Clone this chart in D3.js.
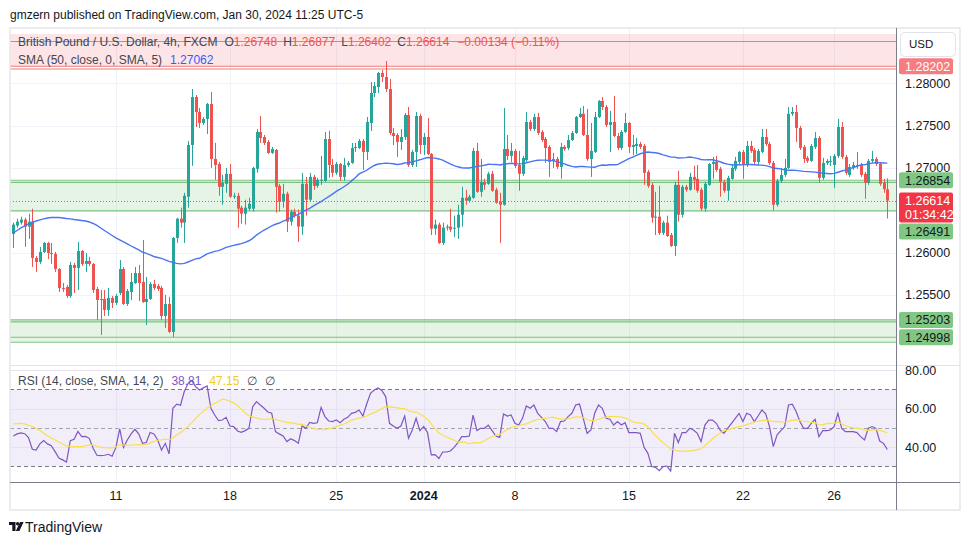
<!DOCTYPE html>
<html><head><meta charset="utf-8">
<script src="https://cdn.jsdelivr.net/npm/d3@7"></script>
<style>
html,body{margin:0;padding:0;background:#fff;}
svg{display:block;font-family:"Liberation Sans",Arial,sans-serif;}
</style></head><body>
<svg id="chart" width="970" height="545"></svg>
<script>
// ---------- DATA ----------
// 4h candles GBP/USD, [open, high, low, close]
const ohlc = [
[1.26219,1.26353,1.26054,1.26330],[1.26318,1.26400,1.26294,1.26365],[1.26353,1.26424,1.26330,1.26389],[1.26389,1.26412,1.26066,1.26306],
[1.26306,1.26459,1.26160,1.26365],[1.26365,1.26518,1.25829,1.25936],[1.25936,1.25959,1.25770,1.25888],[1.25888,1.26066,1.25865,1.26007],
[1.26007,1.26125,1.25995,1.26113],[1.26113,1.26125,1.25924,1.25995],[1.25995,1.26113,1.25865,1.25983],[1.25983,1.26007,1.25770,1.25805],
[1.25805,1.25817,1.25534,1.25581],[1.25581,1.25640,1.25534,1.25569],[1.25593,1.25617,1.25463,1.25486],[1.25486,1.25888,1.25463,1.25853],
[1.25853,1.25877,1.25522,1.25817],[1.25817,1.26125,1.25557,1.26018],[1.26018,1.26030,1.25841,1.25865],[1.25865,1.25995,1.25770,1.25900],
[1.25900,1.25948,1.25841,1.25865],[1.25865,1.25877,1.25522,1.25557],[1.25569,1.25593,1.25202,1.25439],[1.25451,1.25557,1.25025,1.25439],
[1.25451,1.25557,1.25250,1.25321],[1.25321,1.25581,1.25250,1.25463],[1.25463,1.25486,1.25344,1.25404],[1.25404,1.25510,1.25380,1.25486],
[1.25522,1.25911,1.25498,1.25805],[1.25805,1.25829,1.25380,1.25392],[1.25392,1.25569,1.25368,1.25545],[1.25534,1.25758,1.25439,1.25652],
[1.25640,1.25829,1.25628,1.25758],[1.25758,1.25853,1.25427,1.25640],[1.25652,1.26148,1.25404,1.25415],[1.25415,1.25711,1.25144,1.25451],
[1.25451,1.25652,1.25439,1.25628],[1.25628,1.25675,1.25557,1.25581],[1.25605,1.25628,1.25545,1.25569],[1.25581,1.25605,1.25202,1.25250],
[1.25250,1.25498,1.25109,1.25392],[1.25392,1.25475,1.25050,1.25062],[1.25062,1.26184,1.25002,1.26172],[1.26172,1.26412,1.26113,1.26400],
[1.26400,1.26530,1.26294,1.26353],[1.26353,1.26706,1.26113,1.26671],[1.26660,1.27319,1.26530,1.27271],[1.27271,1.27933,1.27024,1.27838],
[1.27838,1.27862,1.27484,1.27661],[1.27661,1.27708,1.27472,1.27531],[1.27531,1.27602,1.27508,1.27579],[1.27579,1.27768,1.27401,1.27756],
[1.27756,1.27898,1.27000,1.27106],[1.27106,1.27295,1.26859,1.27035],[1.27047,1.27071,1.26671,1.26777],[1.26777,1.26918,1.26565,1.26824],
[1.26812,1.27000,1.26706,1.26930],[1.26930,1.27047,1.26647,1.26660],[1.26660,1.26706,1.26635,1.26671],[1.26671,1.26706,1.26294,1.26518],
[1.26530,1.26553,1.26341,1.26459],[1.26459,1.26624,1.26330,1.26530],[1.26518,1.26647,1.26495,1.26577],[1.26518,1.27012,1.26483,1.27000],
[1.26989,1.27460,1.26942,1.27425],[1.27425,1.27614,1.27295,1.27354],[1.27366,1.27389,1.27271,1.27295],[1.27307,1.27330,1.27165,1.27177],
[1.27177,1.27248,1.27165,1.27224],[1.27212,1.27224,1.26471,1.26777],[1.26788,1.26812,1.26483,1.26601],[1.26601,1.26812,1.26530,1.26694],
[1.26694,1.26718,1.26243,1.26365],[1.26365,1.26506,1.26318,1.26483],[1.26483,1.26518,1.26412,1.26436],[1.26436,1.26506,1.26125,1.26306],
[1.26306,1.26942,1.26207,1.26812],[1.26812,1.26894,1.26436,1.26624],[1.26624,1.26942,1.26601,1.26894],[1.26894,1.26918,1.26742,1.26788],
[1.26788,1.26883,1.26765,1.26859],[1.26847,1.27142,1.26800,1.26859],[1.26847,1.27425,1.26835,1.27342],[1.27342,1.27437,1.26883,1.27035],
[1.27035,1.27106,1.26894,1.26942],[1.26942,1.27071,1.26918,1.27047],[1.27047,1.27059,1.26847,1.26894],[1.26894,1.27118,1.26847,1.27035],
[1.27035,1.27083,1.27012,1.27059],[1.27059,1.27295,1.27047,1.27236],[1.27236,1.27295,1.27189,1.27248],[1.27236,1.27342,1.27224,1.27319],
[1.27319,1.27342,1.26977,1.27189],[1.27189,1.27602,1.27094,1.27543],[1.27531,1.28016,1.27437,1.27886],[1.27886,1.28016,1.27838,1.27968],
[1.27956,1.28134,1.27886,1.28122],[1.28122,1.28157,1.28016,1.28075],[1.28075,1.28264,1.27898,1.27933],[1.27933,1.28051,1.27389,1.27413],
[1.27413,1.27472,1.27271,1.27377],[1.27389,1.27413,1.27130,1.27307],[1.27307,1.27460,1.27212,1.27366],[1.27366,1.27650,1.27330,1.27626],
[1.27626,1.27720,1.27012,1.27035],[1.27035,1.27212,1.27012,1.27189],[1.27189,1.27661,1.27012,1.27614],[1.27614,1.27640,1.27165,1.27271],
[1.27271,1.27413,1.27153,1.27366],[1.27366,1.27590,1.27153,1.27165],[1.27165,1.27177,1.26207,1.26282],[1.26282,1.26389,1.26207,1.26330],
[1.26330,1.26353,1.26101,1.26113],[1.26113,1.26353,1.26089,1.26294],[1.26294,1.26330,1.26259,1.26306],[1.26306,1.26518,1.26243,1.26271],
[1.26282,1.26436,1.26184,1.26294],[1.26294,1.26565,1.26160,1.26447],[1.26447,1.26777,1.26306,1.26647],[1.26647,1.26742,1.26565,1.26612],
[1.26612,1.26683,1.26589,1.26660],[1.26647,1.27236,1.26635,1.27201],[1.27201,1.27295,1.26706,1.26718],[1.26718,1.27106,1.26660,1.26835],
[1.26835,1.26871,1.26742,1.26800],[1.26812,1.26953,1.26800,1.26930],[1.26930,1.26965,1.26718,1.26730],[1.26742,1.26765,1.26577,1.26589],
[1.26601,1.26706,1.26113,1.26565],[1.26565,1.27708,1.26553,1.27224],[1.27224,1.27389,1.27094,1.27142],[1.27142,1.27295,1.27071,1.27201],
[1.27201,1.27224,1.27000,1.27024],[1.27035,1.27201,1.26730,1.26930],[1.26930,1.27142,1.26906,1.27118],[1.27094,1.27661,1.27071,1.27543],
[1.27543,1.27567,1.27437,1.27460],[1.27460,1.27640,1.27437,1.27602],[1.27602,1.27650,1.27389,1.27413],[1.27425,1.27448,1.27307,1.27330],
[1.27342,1.27366,1.27059,1.27236],[1.27248,1.27271,1.26894,1.27071],[1.27083,1.27177,1.27000,1.27106],[1.27106,1.27130,1.26989,1.27012],
[1.27012,1.27295,1.26871,1.27248],[1.27248,1.27271,1.27201,1.27224],[1.27236,1.27389,1.27212,1.27330],[1.27330,1.27437,1.27319,1.27413],
[1.27413,1.27614,1.27401,1.27602],[1.27602,1.27708,1.27590,1.27640],[1.27640,1.27732,1.27377,1.27389],[1.27389,1.27697,1.27083,1.27106],
[1.27106,1.27531,1.26894,1.27201],[1.27189,1.27661,1.27177,1.27602],[1.27602,1.27803,1.27590,1.27791],[1.27791,1.27838,1.27685,1.27720],
[1.27720,1.27744,1.27484,1.27508],[1.27508,1.27673,1.27189,1.27543],[1.27543,1.27850,1.27366,1.27377],[1.27377,1.27413,1.27212,1.27236],
[1.27236,1.27448,1.27212,1.27425],[1.27425,1.27650,1.27413,1.27531],[1.27531,1.27543,1.27177,1.27248],[1.27248,1.27389,1.27153,1.27271],
[1.27260,1.27354,1.27165,1.27283],[1.27283,1.27307,1.27224,1.27248],[1.27260,1.27283,1.26800,1.26942],[1.26953,1.26977,1.26765,1.26788],
[1.26800,1.26824,1.26353,1.26412],[1.26412,1.26718,1.26207,1.26424],[1.26424,1.26788,1.26207,1.26231],[1.26231,1.26377,1.26207,1.26353],
[1.26353,1.26436,1.26184,1.26195],[1.26207,1.26231,1.26066,1.26077],[1.26077,1.26835,1.25959,1.26800],[1.26800,1.26965,1.26365,1.26447],
[1.26447,1.26800,1.26412,1.26777],[1.26777,1.26800,1.26718,1.26742],[1.26742,1.26942,1.26730,1.26894],[1.26894,1.27024,1.26742,1.26859],
[1.26871,1.27035,1.26706,1.26730],[1.26742,1.26765,1.26495,1.26518],[1.26518,1.26835,1.26483,1.26812],[1.26800,1.27059,1.26788,1.27047],
[1.27047,1.27130,1.26871,1.27071],[1.27071,1.27142,1.26953,1.26977],[1.26989,1.27012,1.26660,1.26835],[1.26835,1.26859,1.26706,1.26730],
[1.26730,1.26906,1.26612,1.26883],[1.26871,1.27047,1.26859,1.27000],[1.26989,1.27130,1.26965,1.27083],[1.27071,1.27201,1.27035,1.27189],
[1.27189,1.27212,1.26871,1.27035],[1.27035,1.27319,1.27012,1.27260],[1.27260,1.27319,1.27177,1.27201],[1.27212,1.27236,1.27047,1.27071],
[1.27071,1.27224,1.27035,1.27201],[1.27189,1.27460,1.27177,1.27366],[1.27366,1.27460,1.27260,1.27283],[1.27283,1.27307,1.27035,1.27059],
[1.27059,1.27083,1.26495,1.26565],[1.26565,1.26871,1.26542,1.26847],[1.26847,1.27000,1.26824,1.26918],[1.26918,1.27106,1.26894,1.27000],
[1.27000,1.27720,1.26989,1.27640],[1.27640,1.27720,1.27614,1.27661],[1.27661,1.27744,1.27307,1.27472],[1.27472,1.27496,1.27212,1.27236],
[1.27248,1.27271,1.27059,1.27106],[1.27118,1.27142,1.27059,1.27083],[1.27083,1.27283,1.27071,1.27260],[1.27248,1.27425,1.27224,1.27354],
[1.27354,1.27377,1.26824,1.26883],[1.26883,1.27118,1.26859,1.27059],[1.27059,1.27106,1.27035,1.27083],[1.27071,1.27142,1.27024,1.27083],
[1.27035,1.27165,1.26765,1.27142],[1.27142,1.27579,1.27118,1.27484],[1.27484,1.27543,1.27106,1.27130],[1.27130,1.27153,1.26918,1.26942],
[1.26918,1.27047,1.26894,1.27012],[1.27000,1.27071,1.26977,1.27035],[1.27024,1.27189,1.26989,1.27035],[1.27035,1.27059,1.26894,1.26918],
[1.26930,1.26953,1.26635,1.26824],[1.26824,1.27106,1.26800,1.27083],[1.27083,1.27201,1.27059,1.27106],[1.27106,1.27130,1.27024,1.27047],
[1.27047,1.27071,1.26788,1.26812],[1.26824,1.26871,1.26706,1.26748],[1.26748,1.26877,1.26402,1.26614]
];
// SMA(50) values for the bars before 50 closes exist
const smaHead = [1.26231,1.26260,1.26290,1.26314,1.26337,1.26355,1.26373,1.26385,1.26397,1.26408,
1.26414,1.26414,1.26414,1.26408,1.26402,1.26397,1.26390,1.26385,1.26379,1.26373,
1.26361,1.26343,1.26320,1.26290,1.26260,1.26231,1.26201,1.26172,1.26148,1.26125,
1.26101,1.26077,1.26054,1.26030,1.26006,1.25989,1.25971,1.25953,1.25941,1.25930,
1.25913,1.25895,1.25883,1.25872,1.25866,1.25872,1.25888,1.25907,1.25925];
// RSI(14) per bar
const rsiValues = [
45.8,46.9,47.4,47.0,45.0,38.9,38.5,41.7,43.4,41.7,
40.8,37.7,34.4,33.4,32.3,43.4,44.1,48.2,45.5,45.6,
44.6,39.4,35.8,35.6,35.8,36.3,35.3,39.9,49.5,39.9,
43.7,46.9,49.3,46.9,42.0,42.4,47.6,46.9,43.7,38.5,
42.0,36.5,60.2,62.4,61.8,68.9,73.2,74.6,71.4,69.7,
70.8,71.8,60.2,56.7,53.8,54.1,55.5,51.0,50.7,48.4,
47.7,48.6,49.8,61.0,63.7,61.9,60.2,58.3,57.6,48.1,
46.9,45.8,42.9,44.4,43.4,42.0,51.0,49.8,52.9,52.4,
52.7,60.7,55.9,53.6,53.3,54.1,52.7,54.5,55.5,57.6,
58.1,59.3,56.2,62.4,68.0,69.7,70.8,69.4,66.3,52.4,
51.0,49.8,51.0,56.2,44.6,48.9,55.0,48.6,50.7,47.6,
36.0,36.1,34.1,37.5,37.5,38.0,39.9,42.4,45.5,45.5,
45.8,56.7,48.6,49.8,49.8,51.5,48.6,45.8,45.1,57.3,
56.2,56.7,52.4,51.5,55.0,61.4,60.2,61.9,57.6,55.5,
53.3,49.8,49.8,48.1,53.3,53.6,55.9,57.6,61.9,62.4,
55.0,47.2,48.9,57.6,61.9,60.2,55.0,54.5,51.5,53.3,
51.5,52.7,47.6,47.6,47.6,47.2,39.9,36.8,29.9,29.5,
27.8,29.9,30.2,27.6,47.2,42.4,47.6,47.6,49.8,48.9,
47.2,42.9,51.5,54.1,54.1,52.4,48.9,47.2,49.8,52.4,
55.0,57.6,53.3,57.6,56.7,53.3,56.2,59.3,57.3,50.7,
40.3,46.4,48.6,50.7,61.9,62.3,58.5,53.3,49.8,49.8,
52.4,54.5,45.5,48.6,48.6,48.9,50.7,57.6,49.8,48.1,
48.1,48.1,47.6,45.5,43.7,49.8,50.7,49.8,43.2,42.0,
38.81];
// RSI-based MA values for the first 13 bars
const rsiMaHead = [52.1,52.2,52.4,52.1,51.4,50.7,49.8,48.6,47.2,45.8,44.8,43.7,42.7];

const timeTickIndex = [27,57,85,108,132,162,192,216];
const timeTickLabels = ["11","18","25","2024","8","15","22","26"];
const priceTicks = [1.285,1.28,1.275,1.27,1.265,1.26,1.255,1.25];
const rsiTicks = [80,60,40];
const rsiLevels = [70,50,30];
const resistanceZone = [1.28583,1.28202];
const resistanceLines = [1.28494,1.28202,1.28170];
const supportZones = [[1.26854,1.26491],[1.25203,1.24939]];
const supportLines = [1.26854,1.26830,1.26491,1.25203,1.25180,1.24998,1.24939];
const greenMarkers = [1.26854,1.26491,1.25203,1.24998];
const redMarkers = [1.28202];
const countdown = "01:34:42";
const smaLegendValue = 1.27062;
const rsiMaLegendValue = 47.15;

// ---------- LAYOUT ----------
const frame = {left:10, top:28, right:960, bottom:510};
const plotRight = 896;
const mainPane = {top:28, bottom:364};
const rsiPane = {top:365, bottom:482};
const UP = "#26a69a", DOWN = "#ef5350", GRID = "#f0f3fa", TXT = "#131722", LEG = "#434651";

const svg = d3.select("#chart");
const n = ohlc.length;
const x = d3.scaleLinear().domain([0, n-1]).range([frame.left+3.3, plotRight-8.7]);
const y = d3.scaleLinear().domain([1.28654, 1.24682]).range([mainPane.top, mainPane.bottom]);
const yr = d3.scaleLinear().domain([82.7, 21.9]).range([rsiPane.top, rsiPane.bottom]);
const fmt5 = d3.format(".5f");

const closes = ohlc.map(d => d[3]);
const sma = closes.map((c,i) => i < 49 ? smaHead[i] : d3.mean(closes.slice(i-49, i+1)));
const rsiMa = rsiValues.map((r,i) => i < 13 ? rsiMaHead[i] : d3.mean(rsiValues.slice(i-13, i+1)));

svg.append("rect").attr("width",970).attr("height",545).attr("fill","#fff");

// header
svg.append("text").attr("x",10).attr("y",19).attr("font-size",12).attr("fill",TXT)
  .text("gmzern published on TradingView.com, Jan 30, 2024 11:25 UTC-5");

// clips
const defs = svg.append("defs");
defs.append("clipPath").attr("id","clipMain").append("rect")
  .attr("x",frame.left).attr("y",mainPane.top).attr("width",plotRight-frame.left).attr("height",mainPane.bottom-mainPane.top);
defs.append("clipPath").attr("id","clipRsi").append("rect")
  .attr("x",frame.left).attr("y",rsiPane.top).attr("width",plotRight-frame.left).attr("height",rsiPane.bottom-rsiPane.top);

const main = svg.append("g").attr("clip-path","url(#clipMain)");
const rsiG = svg.append("g").attr("clip-path","url(#clipRsi)");

// grid main
main.selectAll(".hg").data(priceTicks).enter().append("line")
  .attr("x1",frame.left).attr("x2",plotRight)
  .attr("y1",d=>Math.round(y(d))+0.5).attr("y2",d=>Math.round(y(d))+0.5)
  .attr("stroke",GRID);
[main, rsiG].forEach((g,k) => {
  g.selectAll(".vg").data(timeTickIndex).enter().append("line")
    .attr("x1",d=>Math.round(x(d))+0.5).attr("x2",d=>Math.round(x(d))+0.5)
    .attr("y1",k? rsiPane.top : mainPane.top).attr("y2",k? rsiPane.bottom : mainPane.bottom)
    .attr("stroke",GRID);
});

// zones
main.append("rect").attr("x",frame.left).attr("width",plotRight-frame.left)
  .attr("y",y(resistanceZone[0])).attr("height",y(resistanceZone[1])-y(resistanceZone[0]))
  .attr("fill","rgba(242,54,69,0.13)");
main.selectAll(".rl").data(resistanceLines).enter().append("line")
  .attr("x1",frame.left).attr("x2",plotRight)
  .attr("y1",d=>y(d)).attr("y2",d=>y(d)).attr("stroke","#f07a7a").attr("stroke-width",1.1);
main.selectAll(".sz").data(supportZones).enter().append("rect")
  .attr("x",frame.left).attr("width",plotRight-frame.left)
  .attr("y",d=>y(d[0])).attr("height",d=>y(d[1])-y(d[0]))
  .attr("fill","rgba(76,175,80,0.14)");
main.selectAll(".sl").data(supportLines).enter().append("line")
  .attr("x1",frame.left).attr("x2",plotRight)
  .attr("y1",d=>y(d)).attr("y2",d=>y(d)).attr("stroke","#7cc382").attr("stroke-width",1.2);

// current price line
const last = ohlc[n-1];
main.append("line").attr("x1",frame.left).attr("x2",plotRight)
  .attr("y1",Math.round(y(last[3]))+0.5).attr("y2",Math.round(y(last[3]))+0.5)
  .attr("stroke",DOWN).attr("stroke-dasharray","1,2");

// candles
const cg = main.append("g");
ohlc.forEach((d,i) => {
  const [o,h,l,c] = d;
  const col = c >= o ? UP : DOWN;
  const cx = Math.round(x(i));
  cg.append("line").attr("x1",cx+0.5).attr("x2",cx+0.5).attr("y1",y(h)).attr("y2",y(l))
    .attr("stroke",col).attr("stroke-width",1);
  const top = y(Math.max(o,c)), bot = y(Math.min(o,c));
  cg.append("rect").attr("x",cx-1).attr("width",3).attr("y",top).attr("height",Math.max(1,bot-top)).attr("fill",col);
});

// SMA
main.append("path").datum(sma)
  .attr("d",d3.line().x((d,i)=>x(i)).y(d=>y(d)))
  .attr("fill","none").attr("stroke","#4a74f2").attr("stroke-width",1.4);

// legend helper
function seqText(g, items, x0, yb, size) {
  let cx = x0;
  items.forEach(it => {
    const t = g.append("text").attr("x",cx).attr("y",yb).attr("font-size",size).attr("fill",it.c).text(it.t);
    cx += t.node().getComputedTextLength() + (it.g || 0);
  });
}
const prevClose = ohlc[n-2][3];
const chg = last[3]-prevClose;
const minus = v => (v<0 ? "\u2212" : "+") + Math.abs(v);
const legendG = svg.append("g");
seqText(legendG, [
  {t:"British Pound / U.S. Dollar, 4h, FXCM", c:LEG, g:7},
  {t:"O", c:LEG}, {t:fmt5(last[0]), c:DOWN, g:6},
  {t:"H", c:LEG}, {t:fmt5(last[1]), c:DOWN, g:6},
  {t:"L", c:LEG}, {t:fmt5(last[2]), c:DOWN, g:6},
  {t:"C", c:LEG}, {t:fmt5(last[3]), c:DOWN, g:8},
  {t:(chg<0?"\u2212":"+")+Math.abs(chg).toFixed(5)+" ("+(chg<0?"\u2212":"+")+Math.abs(chg/prevClose*100).toFixed(2)+"%)", c:DOWN}
], 18, 46, 12);
seqText(legendG, [
  {t:"SMA (50, close, 0, SMA, 5)", c:LEG, g:8},
  {t:fmt5(smaLegendValue), c:"#2962ff"}
], 18, 63.5, 12);

// ---------- RSI pane ----------
rsiG.append("rect").attr("x",frame.left).attr("width",plotRight-frame.left)
  .attr("y",yr(70)).attr("height",yr(30)-yr(70)).attr("fill","rgba(126,87,194,0.1)");
rsiG.selectAll(".rg").data(rsiTicks).enter().append("line")
  .attr("x1",frame.left).attr("x2",plotRight)
  .attr("y1",d=>Math.round(yr(d))+0.5).attr("y2",d=>Math.round(yr(d))+0.5)
  .attr("stroke","#e6e2f2");
rsiG.selectAll(".rlv").data(rsiLevels).enter().append("line")
  .attr("x1",frame.left).attr("x2",plotRight)
  .attr("y1",d=>Math.round(yr(d))+0.5).attr("y2",d=>Math.round(yr(d))+0.5)
  .attr("stroke",d=>d===50?"#a3a6af":"#787b86").attr("stroke-dasharray","4,3");
rsiG.append("path").datum(rsiValues)
  .attr("d",d3.line().x((d,i)=>x(i)).y(d=>yr(d)))
  .attr("fill","none").attr("stroke","#7e57c2").attr("stroke-width",1.2);
rsiG.append("path").datum(rsiMa)
  .attr("d",d3.line().x((d,i)=>x(i)).y(d=>yr(d)))
  .attr("fill","none").attr("stroke","#f7e04a").attr("stroke-width",1.2);
seqText(svg.append("g"), [
  {t:"RSI (14, close, SMA, 14, 2)", c:LEG, g:8},
  {t:rsiValues[n-1].toFixed(2), c:"#7e57c2", g:8},
  {t:rsiMaLegendValue.toFixed(2), c:"#f2cd1c", g:8},
  {t:"\u2205", c:LEG, g:8},
  {t:"\u2205", c:LEG}
], 18, 385, 12);

// ---------- frame & separators ----------
svg.append("rect").attr("x",frame.left).attr("y",frame.top).attr("width",frame.right-frame.left).attr("height",frame.bottom-frame.top)
  .attr("fill","none").attr("stroke","#e3e6ec").attr("stroke-width",1.5);
svg.append("line").attr("x1",frame.left).attr("x2",frame.right).attr("y1",rsiPane.top+0.5).attr("y2",rsiPane.top+0.5).attr("stroke","#e0e3eb");
svg.append("line").attr("x1",frame.left).attr("x2",frame.right).attr("y1",rsiPane.bottom+0.5).attr("y2",rsiPane.bottom+0.5).attr("stroke","#7b7e88");
svg.append("line").attr("x1",plotRight+0.5).attr("x2",plotRight+0.5).attr("y1",frame.top).attr("y2",frame.bottom).attr("stroke","#7b7e88");

// ---------- price axis markers ----------
const axisX = plotRight + 9;
const boxX = plotRight + 3, boxW = 54;
let markers = [];
redMarkers.forEach(p => markers.push({p, h:16, bg:"#f77c80", fg:"#fff", lines:[fmt5(p)]}));
greenMarkers.forEach(p => markers.push({p, h:16, bg:"#81c784", fg:TXT, lines:[fmt5(p)]}));
markers.push({p:last[3], h:30, bg:"#f23645", fg:"#fff", lines:[fmt5(last[3]), countdown]});
markers.forEach(m => m.top = y(m.p) - 8);
markers.sort((a,b) => a.top - b.top);
for (let k = 1; k < markers.length; k++) {
  const prev = markers[k-1];
  if (markers[k].top < prev.top + prev.h + 1) markers[k].top = prev.top + prev.h + 1;
}
const usdBox = {top:32, h:24};
const ag = svg.append("g").attr("font-size",12.5);
markers.forEach(m => {
  ag.append("rect").attr("x",boxX).attr("y",m.top).attr("width",boxW).attr("height",m.h).attr("rx",2).attr("fill",m.bg);
  m.lines.forEach((t,j) => ag.append("text").attr("x",axisX).attr("y",m.top+8+j*13.5).attr("dy","0.36em")
    .attr("fill",m.fg).text(t));
});
const blocked = markers.map(m => [m.top, m.top+m.h]).concat([[usdBox.top, usdBox.top+usdBox.h]]);
priceTicks.forEach(p => {
  const ty = y(p);
  if (ty < mainPane.top + 6 || ty > mainPane.bottom - 6) return;
  if (blocked.some(b => ty + 3.5 > b[0] && ty - 3.5 < b[1])) return;
  ag.append("text").attr("x",axisX).attr("y",ty).attr("dy","0.36em").attr("fill",TXT).text(fmt5(p));
});
rsiTicks.forEach(r => ag.append("text").attr("x",axisX).attr("y",yr(r)).attr("dy","0.36em").attr("fill",TXT).text(r.toFixed(2)));
svg.append("rect").attr("x",plotRight+4.5).attr("y",usdBox.top+0.5).attr("width",55).attr("height",usdBox.h).attr("rx",4)
  .attr("fill","#fff").attr("stroke","#e0e3eb");
svg.append("text").attr("x",plotRight+13).attr("y",usdBox.top+usdBox.h/2).attr("dy","0.36em").attr("font-size",11.5).attr("fill",TXT).text("USD");

// ---------- time axis ----------
const tg = svg.append("g").attr("font-size",12.5).attr("fill",TXT).attr("text-anchor","middle");
timeTickIndex.forEach((i,k) => {
  tg.append("text").attr("x",x(i)).attr("y",500).attr("font-weight",timeTickLabels[k].length===4?"bold":"normal").text(timeTickLabels[k]);
});

// ---------- footer ----------
const fg = svg.append("g").attr("fill",TXT);
fg.append("path").attr("d","M9,522h6.5v9h-3.2v-6h-3.3z");
fg.append("circle").attr("cx",17.6).attr("cy",523.7).attr("r",1.7);
fg.append("path").attr("d","M20,522h3.6l-4.2,9h-3.6z");
fg.append("text").attr("x",25).attr("y",531.5).attr("font-size",14).text("TradingView");
</script>
</body></html>
